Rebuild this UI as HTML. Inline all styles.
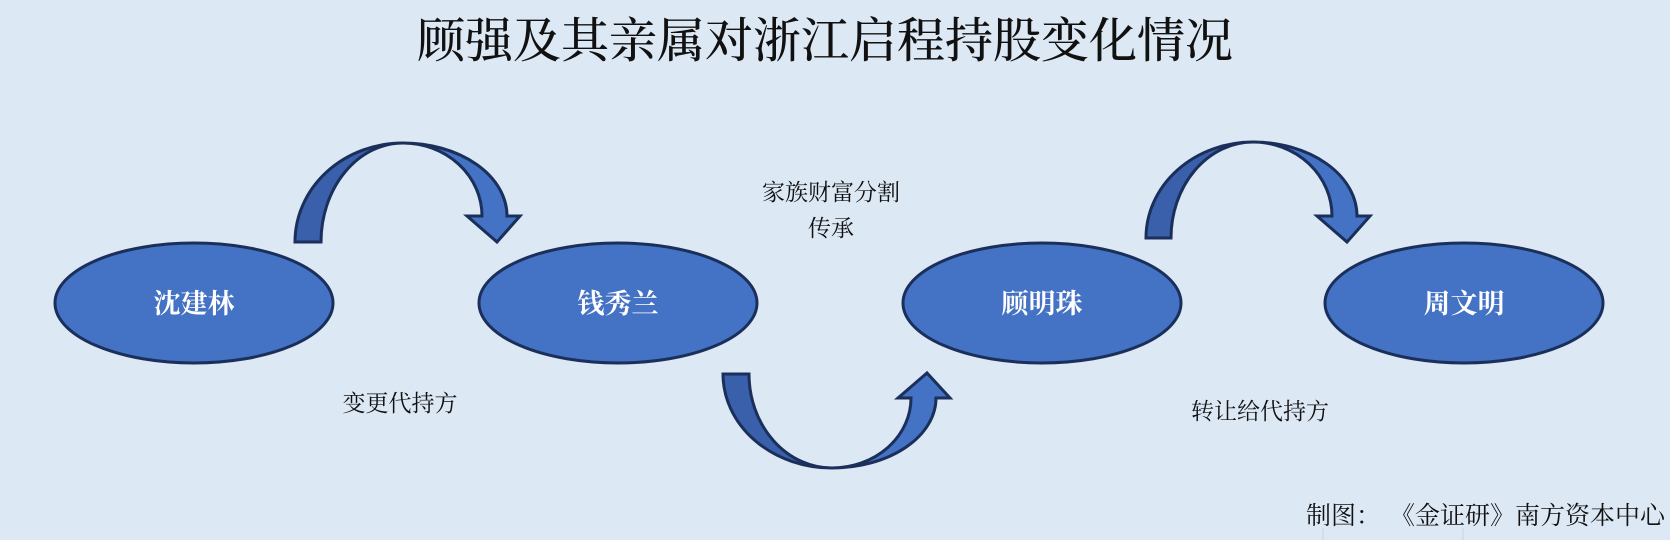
<!DOCTYPE html>
<html><head><meta charset="utf-8"><style>
html,body{margin:0;padding:0;}
body{width:1670px;height:540px;background:#dde8f5;position:relative;overflow:hidden;font-family:"Liberation Serif","Noto Serif CJK SC","Noto Sans CJK SC",serif;}
.t{position:absolute;white-space:nowrap;color:#111;}
</style></head><body>
<svg width="1670" height="540" style="position:absolute;left:0;top:0">
<g stroke="#1a2f5a" stroke-width="3" stroke-linejoin="miter">
<path d="M295 242 A108 99 0 0 1 403 143 A82 99 0 0 0 321 242 Z" fill="#3a5fab"/>
<path d="M403 143 A104 73 0 0 1 507 216 L520 216 L497 242 L467 216 L482 216 A79 73 0 0 0 403 143 Z" fill="#4472c4"/>
<path d="M1146 238 A107 96 0 0 1 1253 142 A82 96 0 0 0 1171 238 Z" fill="#3a5fab"/>
<path d="M1253 142 A104 74 0 0 1 1357 216 L1370 216 L1347 242 L1317 216 L1332 216 A79 74 0 0 0 1253 142 Z" fill="#4472c4"/>
<path d="M723 374 A109 94 0 0 0 832 468 A83 94 0 0 1 749 374 Z" fill="#3a5fab"/>
<path d="M832 468 A104 70 0 0 0 936 398 L950 398 L927 373 L898 398 L911 398 A79 70 0 0 1 832 468 Z" fill="#4472c4"/>
</g>
<g fill="#4472c4" stroke="#1a2f5a" stroke-width="3">
<ellipse cx="194" cy="303" rx="139" ry="60"/>
<ellipse cx="618" cy="303" rx="139" ry="60"/>
<ellipse cx="1042" cy="303" rx="139" ry="60"/>
<ellipse cx="1464" cy="303" rx="139" ry="60"/>
</g>
<g fill="#fff" font-size="27" font-weight="bold" text-anchor="middle" font-family="Liberation Serif, Noto Serif CJK SC, serif">
<text x="194" y="313">沈建林</text>
<text x="618" y="313">钱秀兰</text>
<text x="1042" y="313">顾明珠</text>
<text x="1464" y="313">周文明</text>
</g>
<g stroke="#c8d3e0" stroke-width="1">
<line x1="1323" y1="528" x2="1323" y2="540"/><line x1="1463" y1="528" x2="1463" y2="540"/>
</g>
</svg>
<div class="t" style="left:0;width:1650px;text-align:center;top:2px;font-size:48px;font-weight:500;">顾强及其亲属对浙江启程持股变化情况</div>
<div class="t" style="left:731px;width:200px;text-align:center;top:174px;font-size:23px;">家族财富分割</div>
<div class="t" style="left:731px;width:200px;text-align:center;top:210px;font-size:23px;">传承</div>
<div class="t" style="left:300px;width:200px;text-align:center;top:385px;font-size:23px;">变更代持方</div>
<div class="t" style="left:1160px;width:200px;text-align:center;top:393px;font-size:23px;">转让给代持方</div>
<div class="t" style="right:5px;top:499px;font-size:25px;font-family:'Noto Serif CJK SC',serif;line-height:30px;">制图<span style="display:inline-block;width:34px;text-align:left;">：</span>《金证研》南方资本中心</div>
</body></html>
